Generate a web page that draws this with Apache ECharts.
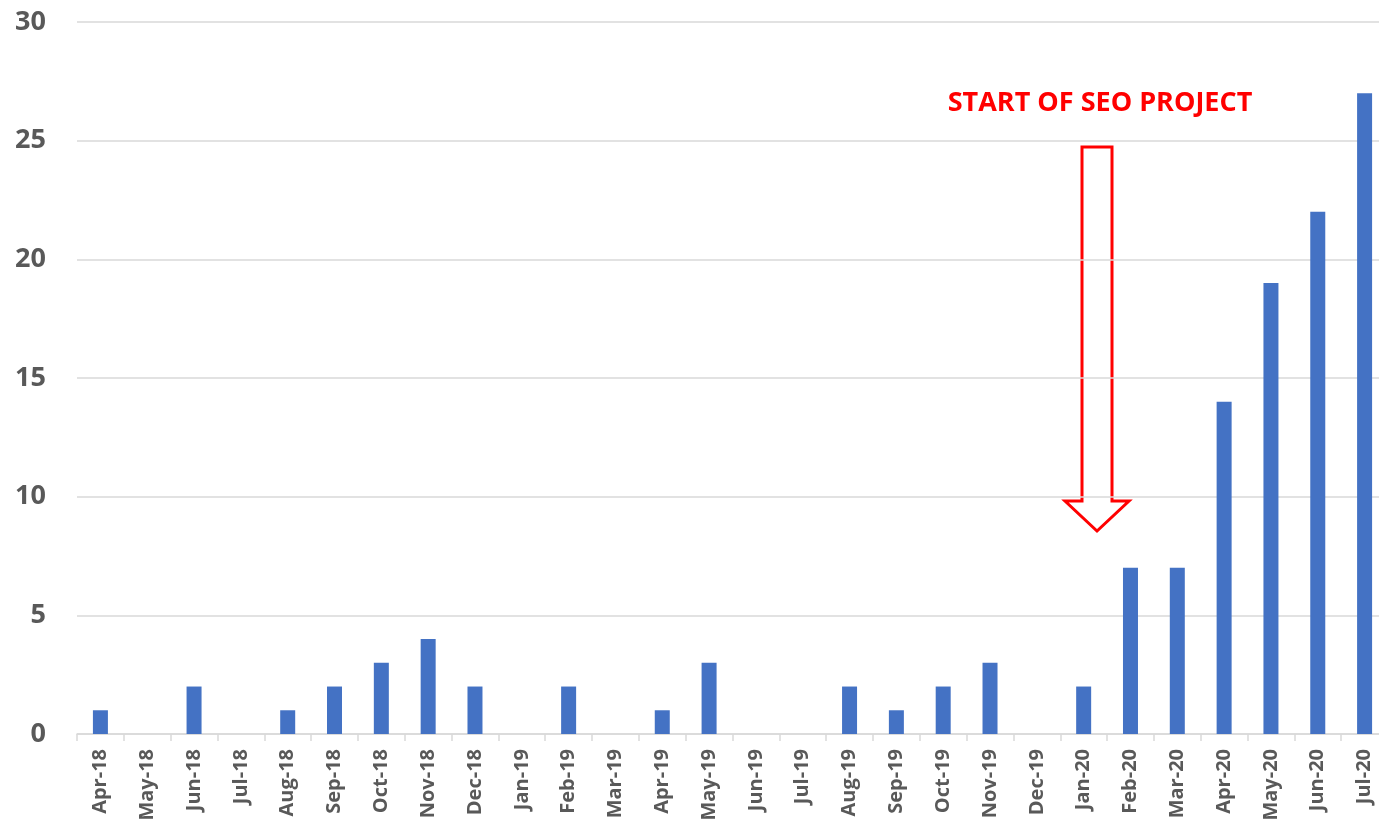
<!DOCTYPE html>
<html>
<head>
<meta charset="utf-8">
<script src="https://cdn.jsdelivr.net/npm/echarts@6/dist/echarts.min.js"></script>
<style>
  html, body { margin: 0; padding: 0; background: #fff; overflow: hidden; }
  #chart { width: 1388px; height: 828px; }
</style>
</head>
<body>
<div id="chart"></div>
<script>
// months on the x axis
var months = ['Apr-18','May-18','Jun-18','Jul-18','Aug-18','Sep-18','Oct-18','Nov-18','Dec-18',
  'Jan-19','Feb-19','Mar-19','Apr-19','May-19','Jun-19','Jul-19','Aug-19','Sep-19','Oct-19',
  'Nov-19','Dec-19','Jan-20','Feb-20','Mar-20','Apr-20','May-20','Jun-20','Jul-20'];
// monthly counts
var counts = [1,0,2,0,1,2,3,4,2,0,2,0,1,3,0,0,2,1,2,3,0,2,7,7,14,19,22,27];
var yTicks = { min: 0, max: 30, interval: 5 };

var myChart = echarts.init(document.getElementById('chart'));
var font = 'Open Sans';

var option = {
  animation: false,
  grid: { left: 77, right: 0, top: 22, bottom: 94 },
  xAxis: {
    type: 'category',
    data: months,
    axisLine: { lineStyle: { color: '#d9d9d9', width: 1.5 } },
    axisTick: { show: true, length: 7, lineStyle: { color: '#d9d9d9', width: 1.5 } },
    axisLabel: {
      rotate: 90, interval: 0, margin: 15,
      color: '#595959', fontSize: 20, fontWeight: 'bold', fontFamily: font
    }
  },
  yAxis: {
    type: 'value',
    min: yTicks.min, max: yTicks.max, interval: yTicks.interval,
    axisLine: { show: false },
    axisTick: { show: false },
    splitLine: { lineStyle: { color: '#d9d9d9', width: 1.5 } },
    axisLabel: { color: '#595959', fontSize: 27, fontWeight: 'bold', fontFamily: font, margin: 31 }
  },
  series: [{
    type: 'bar',
    data: counts,
    barWidth: 15,
    itemStyle: { color: '#4472c4' }
  }],
  graphic: [
    {
      type: 'text',
      x: 1100, y: 103,
      style: {
        text: 'START OF SEO PROJECT', fill: '#ff0000', fontSize: 27, fontWeight: 'bold',
        fontFamily: font, align: 'center', verticalAlign: 'middle'
      }
    },
    {
      type: 'polygon',
      shape: { points: [[1082,147],[1112,147],[1112,501],[1129,501],[1097,531],[1065,501],[1082,501]] },
      style: { fill: '#fff', stroke: '#ff0000', lineWidth: 3 }
    }
  ]
};
myChart.setOption(option);
</script>
</body>
</html>
